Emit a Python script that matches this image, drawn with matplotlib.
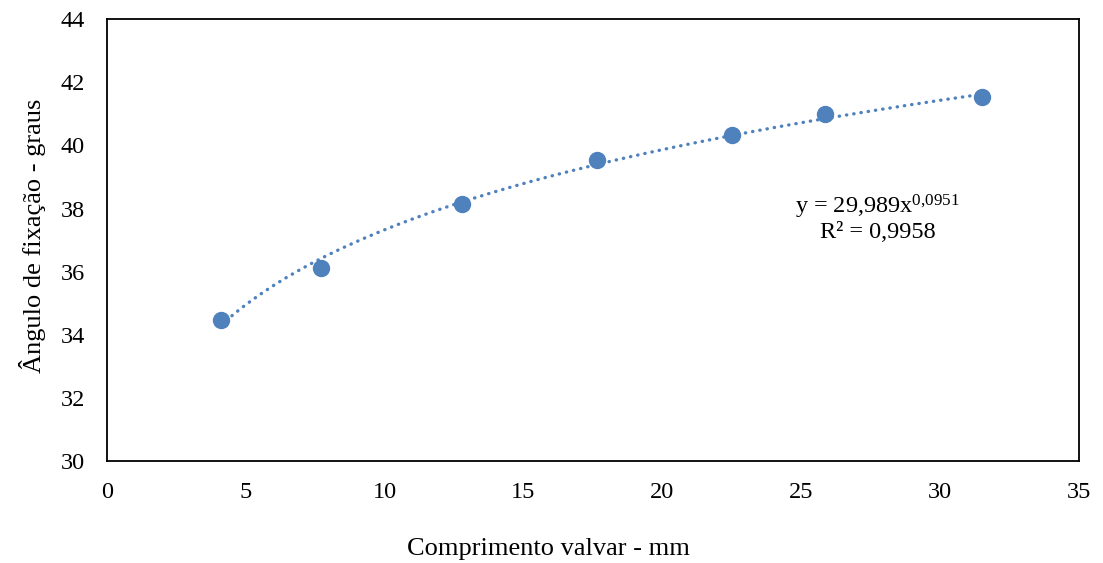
import numpy as np
import matplotlib
matplotlib.use("Agg")
import matplotlib.pyplot as plt

plt.rcParams['font.family'] = ['Liberation Serif', 'DejaVu Serif']
plt.rcParams['mathtext.fontset'] = 'custom'
plt.rcParams['mathtext.rm'] = 'Liberation Serif'
plt.rcParams['mathtext.it'] = 'Liberation Serif'

# ---- Data ----------------------------------------------------------------
comprimento = [4.1, 7.7, 12.8, 17.65, 22.5, 25.85, 31.5]   # mm
angulo      = [34.47, 36.13, 38.13, 39.55, 40.33, 40.98, 41.52]  # graus

BLUE = "#4F81BD"
FS = 17.5
FS_LABEL = 19

# power-law trendline fitted in log-log space (as Excel does)
b, ln_a = np.polyfit(np.log(comprimento), np.log(angulo), 1)
a = np.exp(ln_a)
xs = np.linspace(min(comprimento), max(comprimento), 200)
ys = a * xs ** b

fig = plt.figure(figsize=(11.03, 5.63), dpi=100)
ax = fig.add_axes([0.097, 0.181, 0.881, 0.785])

ax.plot(xs, ys, linestyle=(0, (0.1, 2.1)), color=BLUE, linewidth=2.4,
        dash_capstyle="round")
ax.plot(comprimento, angulo, "o", color=BLUE, markersize=11.5, zorder=3)

ax.set_xlim(0, 35)
ax.set_ylim(30, 44)
ax.set_xticks(range(0, 36, 5))
ax.set_yticks(range(30, 45, 2))
ax.tick_params(length=0, labelsize=FS)
ax.tick_params(axis="x", pad=15)
ax.tick_params(axis="y", pad=16)
for s in ax.spines.values():
    s.set_linewidth(1.3)

ax.set_xlabel("Comprimento valvar - mm", fontsize=FS_LABEL, va="center")
ax.xaxis.set_label_coords(0.454, -0.199)
ax.set_ylabel("Ângulo de fixação - graus", fontsize=FS_LABEL, va="center")
ax.yaxis.set_label_coords(-0.077, 0.51)

ax.text(27.76, 37.7, r"y = 29,989x$^{\mathrm{0{,}0951}}$" + "\nR² = 0,9958",
        fontsize=FS, ha="center", va="center", linespacing=1.05)

fig.savefig("out.png", dpi=100)
